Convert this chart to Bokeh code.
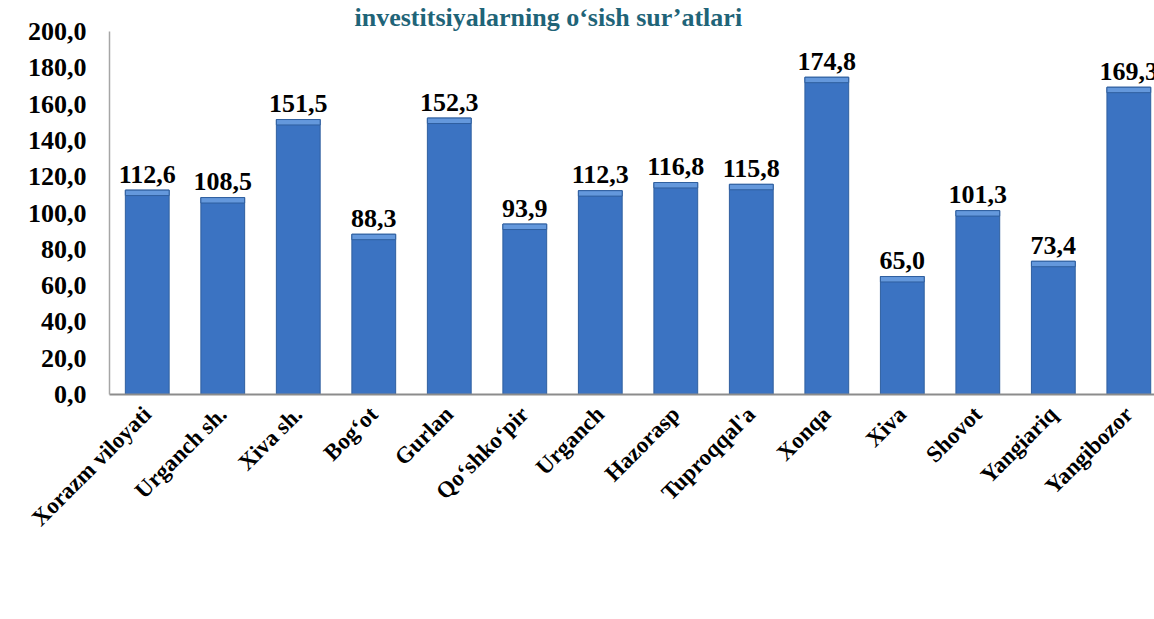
import math
from bokeh.plotting import figure
from bokeh.models import (ColumnDataSource, Range1d, FixedTicker, Legend, LegendItem, Title)
from bokeh.core.properties import value
from bokeh.embed import file_html
from bokeh.resources import INLINE

# ---- data ----
categories = ["Xorazm viloyati", "Urganch sh.", "Xiva sh.", "Bog\u2018ot", "Gurlan",
              "Qo\u2018shko\u2018pir", "Urganch", "Hazorasp", "Tuproqqal'a", "Xonqa",
              "Xiva", "Shovot", "Yangiariq", "Yangibozor"]
growth = [112.6, 108.5, 151.5, 88.3, 152.3, 93.9, 112.3, 116.8, 115.8, 174.8,
          65.0, 101.3, 73.4, 169.3]
y_ticks = [0, 20, 40, 60, 80, 100, 120, 140, 160, 180, 200]
series_name = "o\u2018sish sur'ati %da"
title_text = "investitsiyalarning o\u2018sish sur\u2019atlari"

FONT = "Liberation Serif"

xs = [i + 0.5 for i in range(len(categories))]
labels = [f"{v:.1f}".replace(".", ",") for v in growth]
cap_bottom = [v - 3.0 for v in growth]
src = ColumnDataSource(dict(x=xs, top=growth, lab=labels, capb=cap_bottom))

p = figure(frame_width=1045, frame_height=363, output_backend="svg", toolbar_location=None,
           x_range=Range1d(0, 13.84), y_range=Range1d(0, 200),
           min_border_left=109, min_border_right=0, min_border_top=0,
           min_border_bottom=0)
p.outline_line_color = None
p.xgrid.grid_line_color = None
p.ygrid.grid_line_color = None
p.background_fill_color = "white"
p.border_fill_color = "white"

# title
p.title = Title(text=title_text, align="left", offset=245, standoff=0,
                text_font=FONT, text_font_style="bold", text_font_size="26px",
                text_color="#1F6478", text_line_height=1.0)

bars = p.vbar(x="x", top="top", bottom=0, width=0.58, source=src,
              fill_color="#3B73C2", line_color="#2F5F9F", line_width=1)
p.vbar(x="x", top="top", bottom="capb", width=0.58, source=src,
       fill_color="#6498DC", line_color="#2F5F9F", line_width=1)

p.text(x="x", y="top", text="lab", source=src, text_align="center",
       text_baseline="alphabetic", y_offset=-16,
       text_font=value(FONT), text_font_style="bold", text_font_size="26px",
       text_color="black")

# axes
xa = p.xaxis[0]
xa.ticker = FixedTicker(ticks=xs)
xa.major_label_overrides = {x: c for x, c in zip(xs, categories)}
xa.major_label_orientation = math.pi / 4
xa.major_label_text_font = FONT
xa.major_label_text_font_style = "bold"
xa.major_label_text_font_size = "23px"
xa.major_label_text_color = "black"
xa.major_tick_line_color = None
xa.minor_tick_line_color = None
xa.major_tick_out = 0
xa.major_tick_in = 0
xa.axis_line_color = "#8C8C8C"
xa.axis_line_width = 2
xa.major_label_standoff = 16

ya = p.yaxis[0]
ya.ticker = FixedTicker(ticks=y_ticks)
ya.major_label_overrides = {t: f"{t:.1f}".replace(".", ",") for t in y_ticks}
ya.major_label_text_font = FONT
ya.major_label_text_font_style = "bold"
ya.major_label_text_font_size = "26px"
ya.major_label_text_color = "black"
ya.major_tick_line_color = None
ya.minor_tick_line_color = None
ya.major_tick_out = 0
ya.major_tick_in = 0
ya.axis_line_color = "#A6A6A6"
ya.axis_line_width = 1.5
ya.major_label_standoff = 23

legend = Legend(items=[LegendItem(label=series_name, renderers=[bars])],
                orientation="horizontal", location=(369, 0),
                label_text_font=FONT, label_text_font_style="bold",
                label_text_font_size="24px", label_text_color="black",
                glyph_width=15, glyph_height=15, border_line_color=None,
                background_fill_alpha=0, label_standoff=4, padding=0, margin=0)
p.add_layout(legend, "below")

open("out.html", "w").write(file_html(p, INLINE))
